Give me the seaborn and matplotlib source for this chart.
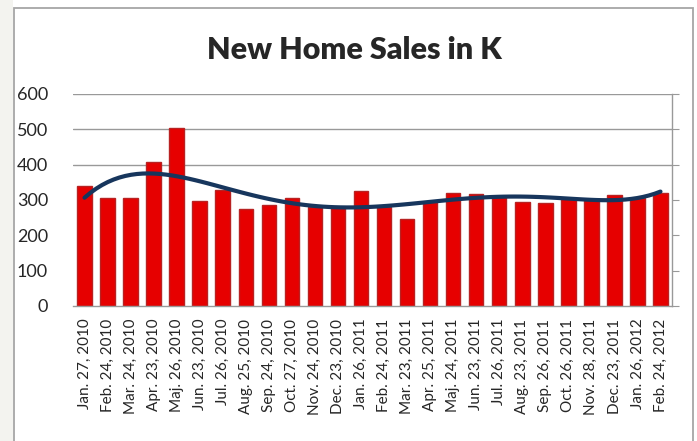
import numpy as np
import matplotlib
matplotlib.use('Agg')
import matplotlib.pyplot as plt
from matplotlib.patches import Rectangle
import seaborn as sns

# months and sales (thousands)
dates = ['Jan. 27, 2010', 'Feb. 24, 2010', 'Mar. 24, 2010', 'Apr. 23, 2010',
         'Maj. 26, 2010', 'Jun. 23, 2010', 'Jul. 26, 2010', 'Aug. 25, 2010',
         'Sep. 24, 2010', 'Oct. 27, 2010', 'Nov. 24, 2010', 'Dec. 23, 2010',
         'Jan. 26, 2011', 'Feb. 24, 2011', 'Mar. 23, 2011', 'Apr. 25, 2011',
         'Maj. 24, 2011', 'Jun. 23, 2011', 'Jul. 26, 2011', 'Aug. 23, 2011',
         'Sep. 26, 2011', 'Oct. 26, 2011', 'Nov. 28, 2011', 'Dec. 23, 2011',
         'Jan. 26, 2012', 'Feb. 24, 2012']
sales = [340, 307, 305, 408, 503, 297, 328, 274, 286, 305, 281, 281,
         326, 281, 246, 295, 321, 317, 312, 295, 292, 305, 303, 314,
         305, 319]
yticks = [0, 100, 200, 300, 400, 500, 600]

sns.set_style('white')
plt.rcParams['font.family'] = ['Lato', 'DejaVu Sans']

fig = plt.figure(figsize=(6.97, 4.41), dpi=100, facecolor='white')
ax = fig.add_axes([73/697, 1-306/441, (672-73)/697, (306-94)/441])

# outer chart frame and the faint strip left of it
fig.patches.append(Rectangle((0, 0), 13/697, 1, transform=fig.transFigure,
                             facecolor='#f3f3ef', edgecolor='none', zorder=0))
fig.patches.append(Rectangle((14/697, -0.1), (693-14)/697, 1-8/441+0.1,
                             transform=fig.transFigure, fill=False,
                             edgecolor='#a6a6a6', lw=1.3, zorder=1))

sns.barplot(x=dates, y=sales, color='#e60000', saturation=1, width=0.63,
            edgecolor='#b82222', linewidth=1, ax=ax, zorder=2)

# polynomial trend line like excel
sns.regplot(x=np.arange(len(sales)), y=np.array(sales, dtype=float), order=6,
            ci=None, scatter=False, truncate=True, ax=ax,
            line_kws={'color': '#17365d', 'lw': 3, 'zorder': 3,
                      'solid_capstyle': 'round'})

ax.set_xlim(-0.5, len(sales) - 0.5)
ax.set_ylim(0, 600)
ax.set_yticks(yticks)
ax.set_ylabel('')
ax.set_xlabel('')

ax.set_axisbelow(True)
ax.grid(axis='y', color='#999999', lw=1)
for gl, t in zip(ax.yaxis.get_gridlines(), yticks):
    gl.set_visible(t >= 400)

for s in ['left', 'top']:
    ax.spines[s].set_visible(False)
for s in ['bottom', 'right']:
    ax.spines[s].set_color('#999999')
    ax.spines[s].set_linewidth(1)

ax.set_xticks(np.arange(len(sales)))
ax.set_xticklabels(dates, rotation=90, fontsize=11)
ax.set_xticks(np.arange(len(sales) + 1) - 0.5, minor=True)
ax.tick_params(axis='x', which='major', length=0, pad=9)
ax.tick_params(axis='x', which='minor', length=5, color='#999999', width=1,
               direction='out')
ax.tick_params(axis='y', left=False, right=True, length=5, color='#999999',
               labelsize=13, pad=13, direction='out', labelright=False)

fig.text(354/697, 1-59/441, 'New Home Sales in K', ha='center',
         va='baseline', fontsize=22, fontweight='heavy')

fig.savefig('out.png', dpi=100, facecolor='white')
